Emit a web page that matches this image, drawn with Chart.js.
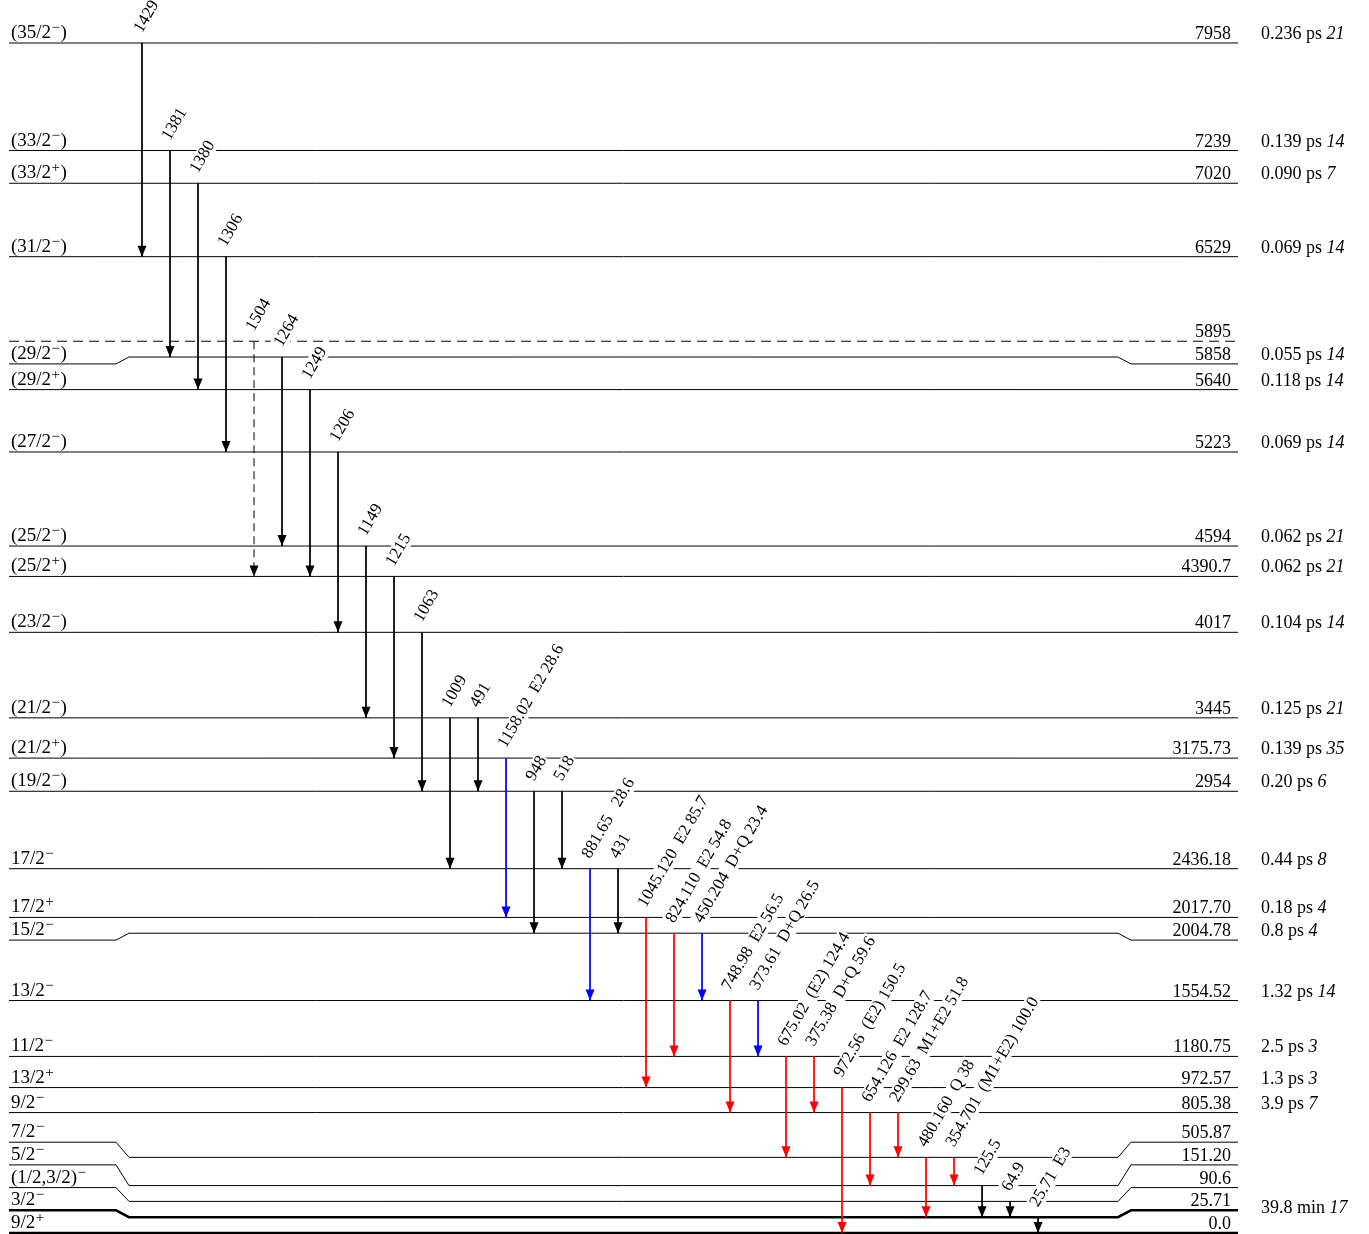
<!DOCTYPE html>
<html>
<head>
<meta charset="utf-8">
<script src="https://cdn.jsdelivr.net/npm/chart.js@4.4.1/dist/chart.umd.min.js"></script>
<style>
  html, body { margin: 0; padding: 0; background: #fff; }
  #wrap { width: 1369px; height: 1234px; position: relative; }
</style>
</head>
<body>
<div id="wrap"><canvas id="levelScheme"></canvas></div>
<script>
// levels, top to bottom
const levelEnergy = ['7958', '7239', '7020', '6529', '5895', '5858', '5640', '5223', '4594', '4390.7',
  '4017', '3445', '3175.73', '2954', '2436.18', '2017.70', '2004.78', '1554.52', '1180.75', '972.57',
  '805.38', '505.87', '151.20', '90.6', '25.71', '0.0'];
const levelSpin = ['(35/2−)', '(33/2−)', '(33/2+)', '(31/2−)', '', '(29/2−)', '(29/2+)', '(27/2−)', '(25/2−)', '(25/2+)',
  '(23/2−)', '(21/2−)', '(21/2+)', '(19/2−)', '17/2−', '17/2+', '15/2−', '13/2−', '11/2−', '13/2+',
  '9/2−', '7/2−', '5/2−', '(1/2,3/2)−', '3/2−', '9/2+'];
const levelHalfLife = ['0.236 ps', '0.139 ps', '0.090 ps', '0.069 ps', '', '0.055 ps', '0.118 ps', '0.069 ps', '0.062 ps', '0.062 ps',
  '0.104 ps', '0.125 ps', '0.139 ps', '0.20 ps', '0.44 ps', '0.18 ps', '0.8 ps', '1.32 ps', '2.5 ps', '1.3 ps',
  '3.9 ps', '', '', '', '39.8 min', ''];
const levelHalfLifeUnc = ['21', '14', '7', '14', '', '14', '14', '14', '21', '21',
  '14', '21', '35', '6', '8', '4', '4', '14', '3', '3',
  '7', '', '', '', '17', ''];
const uncertainLevels = ['5895'];

// gamma transitions, left to right
const gammaEnergy = ['1429', '1381', '1380', '1306', '1504', '1264', '1249', '1206', '1149', '1215', '1063',
  '1009', '491', '1158.02', '948', '518', '881.65', '431', '1045.120', '824.110', '450.204', '748.98',
  '373.61', '675.02', '375.38', '972.56', '654.126', '299.63', '480.160', '354.701', '125.5', '64.9', '25.71'];
const gammaMult = ['', '', '', '', '', '', '', '', '', '', '',
  '', '', 'E2', '', '', '', '', 'E2', 'E2', 'D+Q', 'E2',
  'D+Q', '(E2)', 'D+Q', '(E2)', 'E2', 'M1+E2', 'Q', '(M1+E2)', '', '', 'E3'];
const gammaIntensity = ['', '', '', '', '', '', '', '', '', '', '',
  '', '', '28.6', '', '', '28.6', '', '85.7', '54.8', '23.4', '56.5',
  '26.5', '124.4', '59.6', '150.5', '128.7', '51.8', '38', '100.0', '', '', ''];
const gammaFrom = ['7958', '7239', '7020', '6529', '5895', '5858', '5640', '5223', '4594', '4390.7', '4017',
  '3445', '3445', '3175.73', '2954', '2954', '2436.18', '2436.18', '2017.70', '2004.78', '2004.78', '1554.52',
  '1554.52', '1180.75', '1180.75', '972.57', '805.38', '805.38', '505.87', '505.87', '151.20', '90.6', '25.71'];
const gammaTo = ['6529', '5858', '5640', '5223', '4390.7', '4594', '4390.7', '4017', '3445', '3175.73', '2954',
  '2436.18', '2954', '2017.70', '2004.78', '2436.18', '1554.52', '2004.78', '972.57', '1180.75', '1554.52', '805.38',
  '1180.75', '505.87', '805.38', '0.0', '151.20', '505.87', '25.71', '151.20', '25.71', '25.71', '0.0'];

const FONT = '"Liberation Serif", "Times New Roman", serif';
const MIN_GAP = 15.8;   // px between drawn levels
const ROW_GAP = 22.7;   // px between label rows
const KINK_IN = 107, KINK_OUT = 120;

const levelValues = levelEnergy.map(parseFloat);

function gammaColor(i) {
  if (gammaIntensity[i] === '') return '#000000';
  return parseFloat(gammaIntensity[i]) > 30 ? '#ff0000' : '#0000ff';
}

function isThick(k) {
  const unit = levelHalfLife[k].split(' ')[1];
  return levelValues[k] === 0 || ['ms', 's', 'min', 'h', 'd', 'y'].includes(unit);
}

// linear energy scale, but close levels get pushed apart like in a level scheme drawing
class LevelScale extends Chart.LinearScale {
  configure() {
    super.configure();
    const lin = v => super.getPixelForValue(v);
    const asc = levelValues.slice().sort((a, b) => a - b);
    this._mid = new Map();
    let below = null;
    asc.forEach(e => {
      let p = lin(e);
      if (below !== null) p = Math.min(p, below - MIN_GAP);
      this._mid.set(e, p);
      below = p;
    });
    const desc = asc.slice().reverse();
    const rows = desc.map(e => this._mid.get(e));
    for (let k = 1; k < rows.length; k++) rows[k] = Math.max(rows[k], rows[k - 1] + ROW_GAP);
    rows[rows.length - 1] = this._mid.get(desc[desc.length - 1]);
    for (let k = rows.length - 2; k >= 0; k--) rows[k] = Math.min(rows[k], rows[k + 1] - ROW_GAP);
    this._row = new Map();
    desc.forEach((e, k) => this._row.set(e, rows[k]));
  }
  labelRow(v) {
    return this._row.get(v);
  }
  getPixelForValue(v, index) {
    if (this._mid && this._mid.has(v)) return this._mid.get(v);
    return super.getPixelForValue(v, index);
  }
}
LevelScale.id = 'level';
LevelScale.defaults = Chart.LinearScale.defaults;
Chart.register(LevelScale);

function drawSpin(ctx, text, x, y) {
  const m = text.match(/^(.*?)([+−])(.*)$/);
  ctx.font = '19px ' + FONT;
  if (!m) { ctx.fillText(text, x, y); return; }
  ctx.fillText(m[1], x, y);
  x += ctx.measureText(m[1]).width + 0.5;
  ctx.font = '15px ' + FONT;
  ctx.fillText(m[2], x, y - 6);
  x += ctx.measureText(m[2]).width + 0.5;
  ctx.font = '19px ' + FONT;
  ctx.fillText(m[3], x, y);
}

const schemePlugin = {
  id: 'scheme',
  beforeDatasetsDraw(chart) {
    const { ctx, chartArea: a, scales: { y } } = chart;
    levelValues.forEach((e, k) => {
      const mid = y.getPixelForValue(e);
      const row = y.labelRow(e);
      ctx.save();
      ctx.strokeStyle = '#000';
      ctx.lineWidth = isThick(k) ? 2.5 : 1;
      if (uncertainLevels.includes(levelEnergy[k])) ctx.setLineDash([10, 6]);
      ctx.beginPath();
      ctx.moveTo(a.left, row);
      if (Math.abs(row - mid) > 0.5) {
        ctx.lineTo(a.left + KINK_IN, row);
        ctx.lineTo(a.left + KINK_OUT, mid);
        ctx.lineTo(a.right - KINK_OUT, mid);
        ctx.lineTo(a.right - KINK_IN, row);
      }
      ctx.lineTo(a.right, row);
      ctx.stroke();
      ctx.restore();
    });
  },
  afterDatasetsDraw(chart) {
    const { ctx, chartArea: a, scales: { y } } = chart;
    // arrow heads
    chart.data.datasets.forEach((ds, i) => {
      const pts = chart.getDatasetMeta(i).data;
      const tip = pts[pts.length - 1];
      ctx.save();
      ctx.fillStyle = ds.borderColor;
      ctx.beginPath();
      ctx.moveTo(tip.x, tip.y);
      ctx.lineTo(tip.x - 4.5, tip.y - 11);
      ctx.lineTo(tip.x + 4.5, tip.y - 11);
      ctx.closePath();
      ctx.fill();
      ctx.restore();
    });
    // gamma labels
    chart.data.datasets.forEach((ds, i) => {
      const top = chart.getDatasetMeta(i).data[0];
      let txt = gammaEnergy[i];
      if (gammaMult[i] || gammaIntensity[i]) txt += '  ' + gammaMult[i];
      if (gammaIntensity[i]) txt += ' ' + gammaIntensity[i];
      ctx.save();
      ctx.translate(top.x, top.y - 9.5);
      ctx.rotate(-Math.PI / 3);
      ctx.font = '17px ' + FONT;
      const w = ctx.measureText(txt).width;
      ctx.fillStyle = '#fff';
      ctx.fillRect(-1, -13, w + 2, 17);
      ctx.fillStyle = '#000';
      ctx.textBaseline = 'alphabetic';
      ctx.fillText(txt, 0, 0);
      ctx.restore();
    });
    // level labels
    ctx.save();
    ctx.fillStyle = '#000';
    ctx.textBaseline = 'alphabetic';
    levelValues.forEach((e, k) => {
      const row = y.labelRow(e);
      const mid = y.getPixelForValue(e);
      ctx.textAlign = 'left';
      if (levelSpin[k]) drawSpin(ctx, levelSpin[k], a.left + 2, row - 5);
      ctx.font = '18px ' + FONT;
      ctx.textAlign = 'right';
      ctx.fillText(levelEnergy[k], a.right - 7, row - 4);
      if (levelHalfLife[k]) {
        ctx.textAlign = 'left';
        const ty = Math.max(row, mid) - 4;
        let x = a.right + 23;
        ctx.font = '18px ' + FONT;
        ctx.fillText(levelHalfLife[k] + ' ', x, ty);
        x += ctx.measureText(levelHalfLife[k] + ' ').width;
        ctx.font = 'italic 18px ' + FONT;
        ctx.fillText(levelHalfLifeUnc[k], x, ty);
      }
    });
    ctx.restore();
  }
};

const gammaDatasets = gammaEnergy.map((g, i) => ({
  label: g,
  data: [
    { x: i, y: parseFloat(gammaFrom[i]) },
    { x: i, y: parseFloat(gammaTo[i]) }
  ],
  borderColor: gammaColor(i),
  backgroundColor: gammaColor(i),
  borderWidth: 1,
  borderDash: uncertainLevels.includes(gammaFrom[i]) ? [8, 5] : [],
  pointRadius: 0,
  fill: false,
  tension: 0
}));

const ctxScheme = document.getElementById('levelScheme');

const configScheme = {
  type: 'line',
  data: { datasets: gammaDatasets },
  options: {
    maintainAspectRatio: false,
    responsive: true,
    animation: false,
    events: [],
    layout: { padding: { left: 9, right: 131, top: 43, bottom: 1 } },
    plugins: {
      legend: { display: false },
      tooltip: { enabled: false },
      title: { display: false }
    },
    scales: {
      x: { type: 'linear', min: -4.75, max: 39.14, display: false },
      y: { type: 'level', min: 0, max: 7958, display: false }
    }
  },
  plugins: [schemePlugin]
};

const schemeChart = new Chart(ctxScheme, configScheme);
</script>
</body>
</html>
